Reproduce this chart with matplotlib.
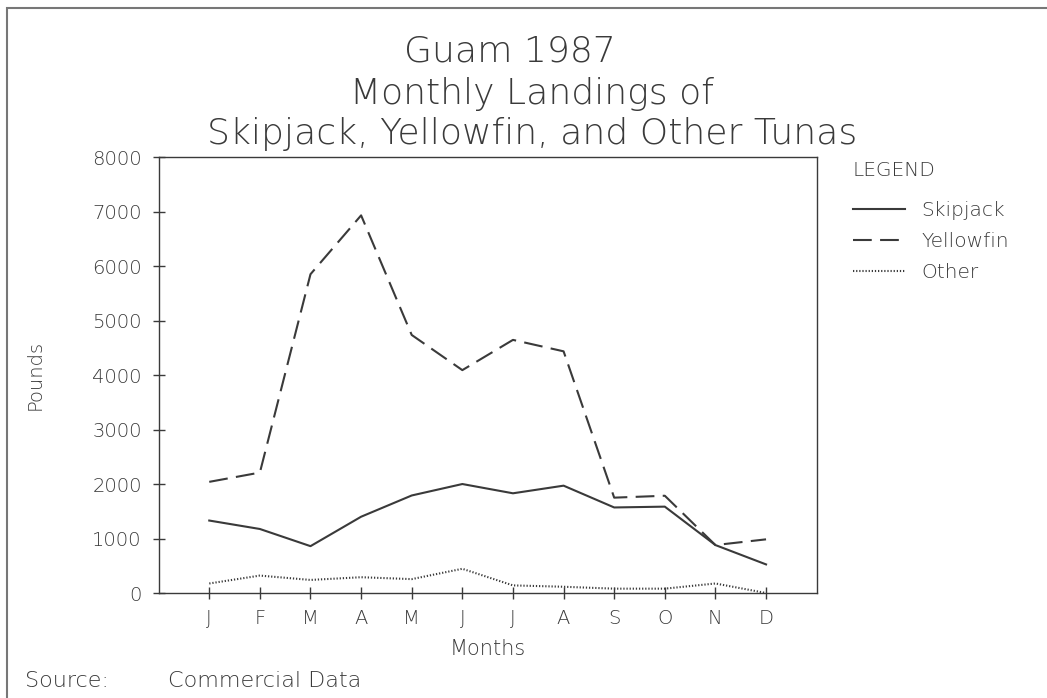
import matplotlib
matplotlib.use("Agg")
import matplotlib.pyplot as plt
from matplotlib.patches import Rectangle

# Dados (libras por mês)
meses = ["J", "F", "M", "A", "M", "J", "J", "A", "S", "O", "N", "D"]
skipjack = [1330, 1175, 860, 1400, 1790, 2000, 1830, 1970, 1570, 1585, 880, 525]
yellowfin = [2040, 2210, 5850, 6930, 4735, 4090, 4645, 4435, 1750, 1785, 880, 985]
other = [175, 320, 240, 290, 255, 445, 140, 115, 80, 80, 175, 0]

cor = "#3a3a3a"
plt.rcParams["font.family"] = ["DejaVu Sans"]
plt.rcParams["font.weight"] = "ultralight"
plt.rcParams["axes.labelweight"] = "ultralight"
plt.rcParams["text.color"] = cor

fig = plt.figure(figsize=(10.47, 6.98), dpi=100)
ax = fig.add_axes([0.152, 0.1504, 0.628, 0.6246])

x = list(range(len(meses)))
ax.plot(x, skipjack, color=cor, lw=1.5, label="Skipjack")
ax.plot(x, yellowfin, color=cor, lw=1.5, dashes=(9, 4), label="Yellowfin")
ax.plot(x, other, color=cor, lw=1.5, dashes=(0.6, 0.9), label="Other")

ax.set_xlim(-0.99, 12.0)
ax.set_ylim(0, 8000)
ax.set_xticks(x)
ax.set_xticklabels(meses)
ax.set_yticks(range(0, 8001, 1000))
ax.tick_params(direction="inout", length=9, width=1, color=cor, labelcolor=cor,
               labelsize=14, pad=8)
ax.tick_params(axis="x", pad=7)
for s in ax.spines.values():
    s.set_color(cor)
    s.set_linewidth(1)

ax.set_xlabel("Months", fontsize=15, color=cor, labelpad=8)
ax.set_ylabel("Pounds", fontsize=14, color=cor, labelpad=34)

# Título em três linhas
fig.text(510 / 1047, 1 - 62 / 698, "Guam 1987", ha="center", va="baseline", fontsize=26)
fig.text(532 / 1047, 1 - 104 / 698, "Monthly Landings of", ha="center", va="baseline", fontsize=26)
fig.text(532 / 1047, 1 - 144 / 698, "Skipjack, Yellowfin, and Other Tunas",
         ha="center", va="baseline", fontsize=26)

fig.text(25 / 1047, 1 - 681 / 698, "Source:", ha="left", va="center", fontsize=16)
fig.text(168 / 1047, 1 - 681 / 698, "Commercial Data", ha="left", va="center", fontsize=16)

leg = ax.legend(title="LEGEND", loc="upper left", bbox_to_anchor=(1.043, 1.01),
                frameon=False, fontsize=14.5, title_fontsize=14.5, handlelength=2.6,
                handletextpad=0.8, labelspacing=0.6, alignment="left", borderaxespad=0)
leg._legend_box.sep = 15
for t in leg.get_texts():
    t.set_color(cor)
leg.get_title().set_color(cor)

# moldura externa
fig.add_artist(Rectangle((7 / 1047, -0.05), 1.1, 1.05 - 8 / 698, transform=fig.transFigure,
                         fill=False, edgecolor="#777777", lw=1.5))

fig.savefig("out.png", dpi=100)
